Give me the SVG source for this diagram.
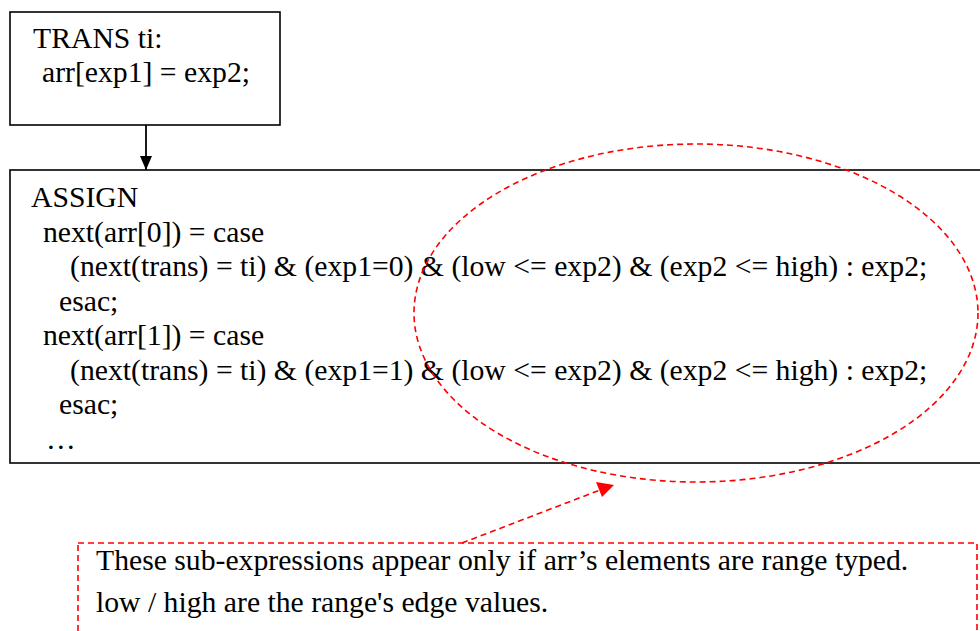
<svg xmlns="http://www.w3.org/2000/svg" width="980" height="631" viewBox="0 0 980 631">
<style>
text{font-family:"Liberation Serif","Times New Roman",serif;font-size:29.7px;fill:#000}
.box{fill:#fff;stroke:#000;stroke-width:1.6}
.red{fill:none;stroke:#f00;stroke-width:1.6;stroke-dasharray:6 4}
</style>
<defs>
<marker id="ab" markerWidth="12" markerHeight="14" refX="6" refY="14" orient="auto" markerUnits="userSpaceOnUse" viewBox="0 0 12 14">
<path d="M0,0 L12,0 L6,14 Z" fill="#000" transform="rotate(0)"/>
</marker>
<marker id="ar" markerWidth="16" markerHeight="14" refX="16" refY="7" orient="auto" markerUnits="userSpaceOnUse" viewBox="0 0 16 14">
<path d="M0,0 L16,7 L0,14 Z" fill="#f00"/>
</marker>
</defs>
<g id="trans">
<rect class="box" x="10" y="12" width="270" height="113"/>
<text x="33" y="48">TRANS ti:</text>
<text x="42" y="82">arr[exp1] = exp2;</text>
</g>
<g id="assign">
<rect class="box" x="10" y="170" width="985" height="293"/>
<text x="31" y="207">ASSIGN</text>
<text x="43" y="241.5">next(arr[0]) = case</text>
<text x="70" y="276">(next(trans) = ti) &amp; (exp1=0) &amp; (low &lt;= exp2) &amp; (exp2 &lt;= high) : exp2;</text>
<text x="59" y="310.5">esac;</text>
<text x="43" y="345">next(arr[1]) = case</text>
<text x="70" y="379.5">(next(trans) = ti) &amp; (exp1=1) &amp; (low &lt;= exp2) &amp; (exp2 &lt;= high) : exp2;</text>
<text x="59" y="414">esac;</text>
<text x="46" y="448.5">…</text>
</g>
<g id="highlight">
<ellipse class="red" cx="696" cy="313" rx="282" ry="169"/>
</g>
<g id="note">
<rect class="red" x="78" y="543" width="899" height="100"/>
<text x="96" y="570">These sub-expressions appear only if arr’s elements are range typed.</text>
<text x="96" y="612">low / high are the range's edge values.</text>
</g>
<g id="connectors">
<line x1="146" y1="125" x2="146" y2="170" stroke="#000" stroke-width="1.8"/>
<path d="M140,156 L152,156 L146,170 Z" fill="#000"/>
<line class="red" x1="462" y1="543" x2="600" y2="490"/>
<path d="M614,485 L596,482 L602,497 Z" fill="#f00"/>
</g>
</svg>
